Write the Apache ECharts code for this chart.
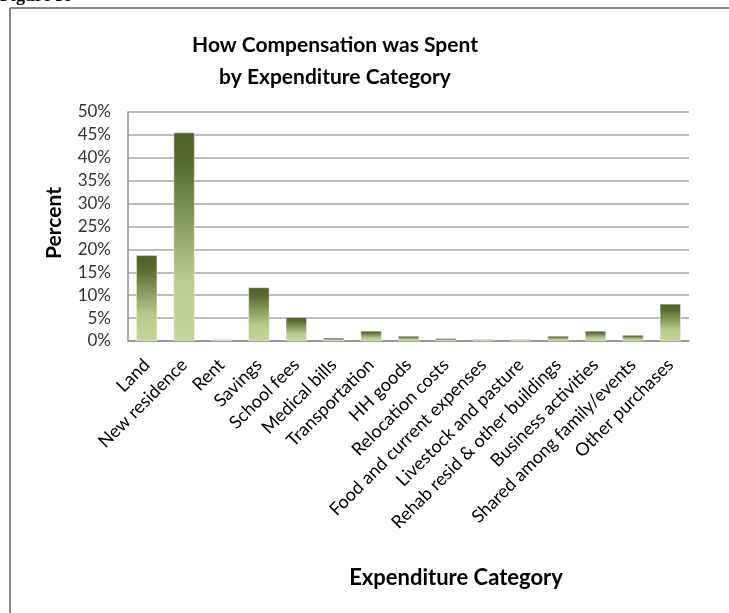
<!DOCTYPE html>
<html>
<head>
<meta charset="utf-8">
<script src="https://cdn.jsdelivr.net/npm/echarts@6/dist/echarts.min.js"></script>
<style>
  html, body { margin: 0; padding: 0; background: #fff; }
  #chart { width: 729px; height: 613px; }
</style>
</head>
<body>
<div id="chart"></div>
<script>
// categories and values (percent)
const categories = [
  "Land", "New residence", "Rent", "Savings", "School fees", "Medical bills",
  "Transportation", "HH goods", "Relocation costs", "Food and current expenses",
  "Livestock and pasture", "Rehab resid & other buildings", "Business activities",
  "Shared among family/events", "Other purchases"
];
const percentSpent = [18.7, 45.5, 0.3, 11.7, 5.2, 0.7, 2.2, 1.1, 0.6, 0.35, 0.35, 1.1, 2.2, 1.3, 8.1];
const yTicks = { min: 0, max: 50, step: 5 };

const chart = echarts.init(document.getElementById("chart"));
const font = "Lato, 'Open Sans', sans-serif";

chart.setOption({
  animation: false,
  backgroundColor: "#fff",
  grid: { left: 128, right: 40, top: 112, bottom: 272 },
  graphic: [
    // chart frame (cut off on the right and bottom)
    { type: "line", shape: { x1: 10, y1: 8, x2: 729, y2: 8 }, style: { stroke: "#878787", lineWidth: 2 } },
    { type: "line", shape: { x1: 10, y1: 8, x2: 10, y2: 613 }, style: { stroke: "#878787", lineWidth: 2 } },
    { type: "text", left: 0, top: -13, style: { text: "Figure 39", font: "bold 18px 'Liberation Serif'", fill: "#000" } },
    { type: "text", x: 335, y: 45, style: { text: "How Compensation was Spent", font: "bold 21px " + font, fill: "#000", align: "center", verticalAlign: "middle" } },
    { type: "text", x: 335, y: 77, style: { text: "by Expenditure Category", font: "bold 21px " + font, fill: "#000", align: "center", verticalAlign: "middle" } },
    { type: "text", x: 456, y: 578, style: { text: "Expenditure Category", font: "bold 22px " + font, fill: "#000", align: "center", verticalAlign: "middle" } },
    { type: "text", x: 54, y: 223, rotation: Math.PI / 2, style: { text: "Percent", font: "bold 21px " + font, fill: "#000", align: "center", verticalAlign: "middle" } }
  ],
  xAxis: {
    type: "category",
    data: categories,
    axisLine: { lineStyle: { color: "#8c8c8c", width: 1.5 } },
    axisTick: { show: false },
    axisLabel: { interval: 0, rotate: 45, fontFamily: font, fontSize: 18, color: "#000", margin: 21 }
  },
  yAxis: {
    type: "value",
    min: yTicks.min,
    max: yTicks.max,
    interval: yTicks.step,
    axisLine: { show: true, lineStyle: { color: "#8c8c8c", width: 1.5 } },
    axisTick: { show: false },
    axisLabel: { formatter: "{value}%", fontFamily: font, fontSize: 17, color: "#333", margin: 17 },
    splitLine: { lineStyle: { color: "#a6a6a6", width: 1.5 } }
  },
  series: [{
    type: "bar",
    data: percentSpent,
    barCategoryGap: "44%",
    itemStyle: {
      borderColor: "#eef3e2",
      borderWidth: 0.5,
      color: new echarts.graphic.LinearGradient(0, 0, 0, 1, [
        { offset: 0, color: "#4f6228" },
        { offset: 0.15, color: "#566b2f" },
        { offset: 0.7, color: "#b6cb8c" },
        { offset: 1, color: "#c3d69b" }
      ])
    }
  }]
});
</script>
</body>
</html>
